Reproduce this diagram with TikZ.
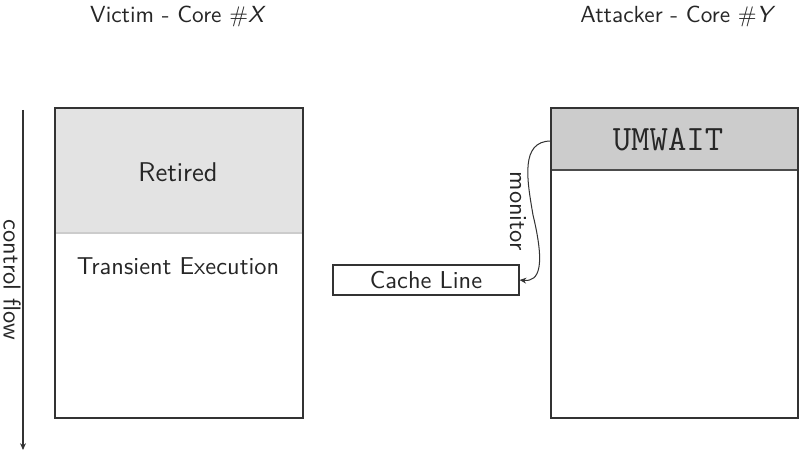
\documentclass[tikz,border=0pt]{standalone}
\usetikzlibrary{arrows.meta}
\begin{document}
\begin{tikzpicture}[x=0.4425pt,y=-0.4425pt,font=\sffamily,
  every node/.style={text=black!85},
  bodytext/.style={font=\sffamily\fontsize{10.8}{13}\selectfont},
  boxline/.style={draw=black!80,line width=0.5pt},
  arr/.style={draw=black!80,line width=0.45pt,-{Stealth[length=3pt,width=2.6pt]}}]
\useasboundingbox (0,0) rectangle (799,450);
% titles
\node[font=\sffamily\fontsize{10.3}{12}\selectfont] (vt) at (178,16) {Victim - Core $\#$\textsl{X}};
\node[font=\sffamily\fontsize{10.3}{12}\selectfont] (at) at (678,16) {Attacker - Core $\#$\textsl{Y}};
% victim core
\fill[black!11] (55,108) rectangle (303,233);
\draw[black!20,line width=0.5pt] (55,233) -- (303,233);
\node[boxline,minimum width=248*0.4425pt,minimum height=310*0.4425pt,inner sep=0pt] (victim) at (179,263) {};
\node[font=\sffamily\fontsize{12}{14}\selectfont] (ret) at (178,172) {Retired};
\node[bodytext] (te) at (178,266) {Transient Execution};
% attacker core
\fill[black!20] (551,108) rectangle (798,170);
\draw[black!70,line width=0.5pt] (551,170) -- (798,170);
\node[boxline,minimum width=247*0.4425pt,minimum height=310*0.4425pt,inner sep=0pt] (attacker) at (674.5,263) {};
\coordinate (um) at (551,141);
\node[font=\ttfamily\fontsize{15.8}{18}\selectfont] (umw) at (668,140) {UMWAIT};
% cache line
\node[boxline,minimum width=186*0.4425pt,minimum height=30*0.4425pt,inner sep=0pt,bodytext] (cl) at (426,280) {Cache Line};
% monitor arrow
\draw[arr] (um) .. controls (520,141) and (527,180) .. (533,215) .. controls (545,265) and (540,282) .. (cl.east);
\node[rotate=-90,bodytext,anchor=base] (mon) at (510,211) {monitor};
% control flow
\coordinate (cf1) at (23,110);
\coordinate (cf2) at (23,450);
\draw[arr] (cf1) -- (cf2);
\node[rotate=-90,bodytext,anchor=base] (cft) at (3.5,280) {control flow};
\end{tikzpicture}
\end{document}
